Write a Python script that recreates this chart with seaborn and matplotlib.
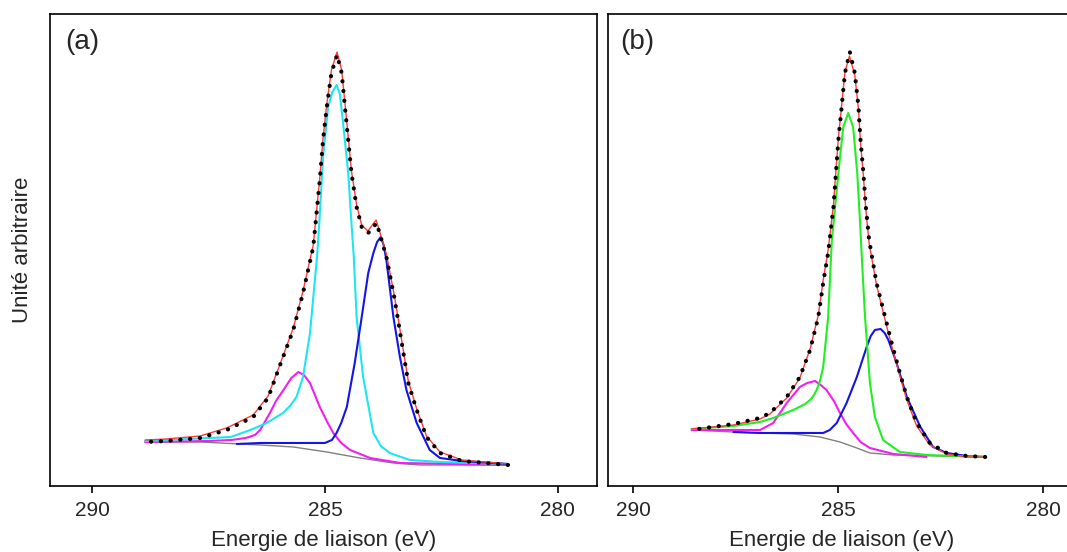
import numpy as np
import pandas as pd
import matplotlib
matplotlib.use("Agg")
import matplotlib.pyplot as plt
import seaborn as sns

# ---- panel (a) : energy (eV) / intensity (a.u.) ----
a_exp_e = [288.86, 288.40, 287.68, 287.11, 286.54, 286.22, 285.97, 285.68, 285.47, 285.25,
           285.11, 285.04, 284.96, 284.86, 284.74, 284.64, 284.57, 284.50, 284.43, 284.32,
           284.21, 284.07, 283.89, 283.68, 283.50, 283.35, 283.21, 283.03, 282.82, 282.53,
           282.06, 281.07]
a_exp_i = [44, 45, 48, 56, 69, 88, 120, 156, 193, 239,
           306, 346, 379, 413, 431, 413, 379, 346, 313, 279,
           259, 253, 263, 229, 186, 143, 103, 76, 49, 33,
           25, 21]

a_fit_e = [288.86, 288.40, 287.68, 287.11, 286.54, 286.22, 285.97, 285.68, 285.47, 285.25,
           285.11, 285.04, 284.96, 284.86, 284.74, 284.64, 284.57, 284.50, 284.43, 284.32,
           284.21, 284.08, 283.90, 283.68, 283.50, 283.35, 283.21, 283.03, 282.82, 282.53,
           282.06, 281.07]
a_fit_i = [46, 47, 50, 58, 71, 90, 121, 158, 195, 241,
           308, 348, 382, 416, 434, 416, 383, 349, 315, 281,
           261, 255, 266, 232, 188, 145, 105, 77, 50, 34,
           26, 22]

a_c1_e = [288.86, 287.02, 286.60, 286.25, 285.90, 285.75, 285.61, 285.47, 285.32, 285.17,
          285.12, 285.04, 284.93, 284.84, 284.75, 284.68, 284.61, 284.50, 284.43, 284.38,
          284.32, 284.18, 283.96, 283.80, 283.61, 283.18, 282.53, 281.07]
a_c1_i = [45, 49, 56, 63, 73, 80, 89, 109, 153, 229,
          263, 329, 379, 394, 401, 392, 363, 313, 263, 229,
          169, 109, 53, 40, 33, 26, 24, 22]

a_c2_e = [288.86, 287.50, 287.00, 286.70, 286.50, 286.39, 286.18, 286.05, 285.89, 285.72,
          285.57, 285.45, 285.32, 285.11, 284.95, 284.82, 284.65, 284.46, 284.03, 283.39,
          281.07]
a_c2_i = [44, 45, 46, 48, 51, 56, 73, 85, 96, 108,
          114, 111, 103, 79, 64, 53, 43, 36, 28, 23,
          21]

a_c3_e = [286.89, 286.39, 285.00, 284.85, 284.75, 284.65, 284.53, 284.36, 284.21, 284.07,
          283.96, 283.88, 283.80, 283.74, 283.68, 283.53, 283.39, 283.25, 283.03, 282.75,
          282.53, 282.06, 281.07]
a_c3_i = [42, 43, 43, 46, 53, 63, 79, 123, 169, 213,
          233, 244, 249, 241, 226, 169, 129, 96, 63, 36,
          28, 25, 22]

a_bg_e = [288.86, 287.68, 286.39, 285.68, 284.96, 284.25, 283.53, 282.96, 281.07]
a_bg_i = [44, 44, 41, 39, 34, 28, 23, 21, 21]

# ---- panel (b) ----
b_exp_e = [288.57, 287.55, 286.90, 286.66, 286.25, 285.93, 285.68, 285.48, 285.36, 285.24,
           285.11, 285.05, 284.99, 284.91, 284.83, 284.71, 284.59, 284.50, 284.45, 284.38,
           284.32, 284.24, 284.06, 283.85, 283.69, 283.49, 283.32, 283.08, 282.76, 282.35,
           281.86, 281.41]
b_exp_i = [56, 62, 68, 73, 89, 109, 136, 169, 203, 233,
           279, 313, 346, 379, 413, 434, 413, 379, 346, 313,
           279, 246, 203, 169, 143, 113, 89, 63, 43, 33,
           30, 29]

b_fit_e = [288.57, 287.55, 286.90, 286.66, 286.25, 285.93, 285.68, 285.48, 285.36, 285.24,
           285.11, 285.05, 284.99, 284.91, 284.83, 284.72, 284.59, 284.50, 284.45, 284.38,
           284.32, 284.24, 284.06, 283.85, 283.69, 283.49, 283.32, 283.08, 282.76, 282.35,
           281.86, 281.41]
b_fit_i = [57, 61, 67, 72, 88, 108, 137, 171, 206, 236,
           281, 315, 348, 381, 414, 430, 411, 377, 343, 310,
           276, 243, 201, 166, 140, 110, 86, 60, 41, 32,
           29, 29]

b_c1_e = [288.57, 287.55, 286.90, 286.58, 286.09, 285.80, 285.68, 285.60, 285.52, 285.44,
          285.36, 285.24, 285.15, 285.03, 284.95, 284.87, 284.75, 284.63, 284.53, 284.46,
          284.42, 284.34, 284.22, 284.10, 283.90, 283.49, 282.84, 281.41]
b_c1_i = [57, 60, 64, 68, 76, 82, 86, 90, 96, 105,
          119, 169, 245, 296, 329, 359, 373, 359, 313, 263,
          230, 169, 103, 69, 46, 34, 31, 29]

b_c2_e = [288.57, 287.15, 286.90, 286.58, 286.25, 285.93, 285.75, 285.56, 285.42, 285.28,
          285.10, 284.95, 284.80, 284.63, 284.45, 284.22, 283.65, 282.84]
b_c2_i = [56, 56, 56, 63, 83, 99, 103, 105, 101, 96,
          85, 73, 62, 53, 44, 38, 32, 29]

b_c3_e = [287.55, 286.90, 285.36, 285.20, 285.03, 284.79, 284.54, 284.30, 284.20, 284.10,
          283.96, 283.86, 283.77, 283.57, 283.32, 282.99, 282.68, 282.35, 281.86, 281.41]
b_c3_i = [54, 53, 53, 56, 63, 83, 109, 139, 150, 156,
          157, 153, 146, 123, 89, 59, 39, 33, 30, 29]

b_bg_e = [288.57, 287.55, 286.90, 286.09, 285.44, 284.95, 284.54, 284.22, 283.65, 281.41]
b_bg_i = [56, 54, 53, 52, 49, 44, 38, 33, 31, 29]

sns.set_style("white")
plt.rcParams['font.family'] = ['Liberation Sans', 'DejaVu Sans']

fig = plt.figure(figsize=(10.67, 5.52), dpi=100)
ax1 = fig.add_axes([0.0469, 0.1196, 0.5126, 0.855])
ax2 = fig.add_axes([0.5698, 0.1196, 0.4384, 0.855])


def draw(ax, curves, exp_e, exp_i, fit_e, fit_i, label, xlim):
    for e, i, col, lw in curves:
        sns.lineplot(x=e, y=i, ax=ax, color=col, linewidth=lw)
    sns.lineplot(x=fit_e, y=fit_i, ax=ax, color='#ff3b3b', linewidth=1.0)
    sns.lineplot(x=exp_e, y=exp_i, ax=ax, color='black', linewidth=3.0)
    dots = ax.lines[-1]
    dots.set_linestyle((0, (0.05, 2.3)))
    dots.set_dash_capstyle('round')
    ax.set_xlim(*xlim)
    ax.set_ylim(0, 472)
    ax.set_yticks([])
    ax.set_xticks([290, 285, 280])
    ax.tick_params(axis='x', direction='out', length=5, width=1.2, labelsize=15,
                   bottom=True, pad=6, color='black')
    for s in ax.spines.values():
        s.set_color('black')
        s.set_linewidth(1.2)
    ax.set_xlabel('Energie de liaison (eV)', fontsize=16, labelpad=7)
    ax.set_ylabel('')
    ax.text(0.027, 0.94, label, transform=ax.transAxes, fontsize=20, va='center')


draw(ax1,
     [(a_bg_e, a_bg_i, '#808080', 1.0),
      (a_c2_e, a_c2_i, '#f21ef2', 1.5),
      (a_c1_e, a_c1_i, '#1ee6ee', 1.5),
      (a_c3_e, a_c3_i, '#1414e6', 1.5)],
     a_exp_e, a_exp_i, a_fit_e, a_fit_i, '(a)', (290.9, 279.16))

draw(ax2,
     [(b_bg_e, b_bg_i, '#808080', 1.0),
      (b_c2_e, b_c2_i, '#f21ef2', 1.5),
      (b_c3_e, b_c3_i, '#1414e6', 1.5),
      (b_c1_e, b_c1_i, '#22ee22', 1.5)],
     b_exp_e, b_exp_i, b_fit_e, b_fit_i, '(b)', (290.61, 279.2))

ax1.set_ylabel('Unité arbitraire', fontsize=16, labelpad=12)

fig.savefig('out.png', dpi=100)
